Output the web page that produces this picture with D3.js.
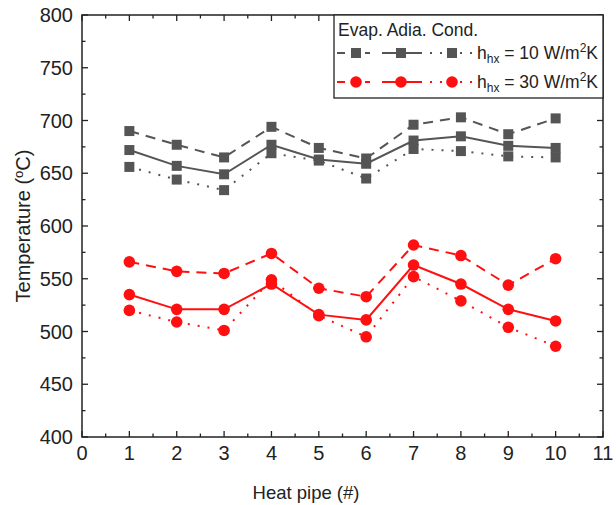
<!DOCTYPE html>
<html><head><meta charset="utf-8">
<script src="https://cdn.jsdelivr.net/npm/d3@7"></script>
<style>body{margin:0;background:#fff}svg{display:block}text{font-family:"Liberation Sans",Arial,sans-serif;fill:#222}</style>
</head><body><svg id="c" width="616" height="505"></svg>
<script>
const pipes = [1,2,3,4,5,6,7,8,9,10];
const xTicks = [0,1,2,3,4,5,6,7,8,9,10,11];
const yTicks = [400,450,500,550,600,650,700,750,800];
const evap10 = [690,677,665,694,674,664,696,703,687,702];
const adia10 = [672,657,649,677,663,659,681,685,676,674];
const cond10 = [656,644,634,669,662,645,673,671,666,665];
const evap30 = [566,557,555,574,541,533,582,572,544,569];
const adia30 = [535,521,521,545,516,511,563,545,521,510];
const cond30 = [520,509,501,549,515,495,552,529,504,486];
const legendHeader = "Evap. Adia. Cond.";
const legendRows = ["10","30"];

const svg = d3.select("#c");
const L=82,R=603,T=15,B=437;
const x = d3.scaleLinear().domain([0,11]).range([L,R]);
const y = d3.scaleLinear().domain([400,800]).range([B,T]);
const gray="#555555", red="#ff1010";

svg.append("rect").attr("x",L).attr("y",T).attr("width",R-L).attr("height",B-T)
  .attr("fill","none").attr("stroke","#222").attr("stroke-width",1.5);

const xMinor = d3.range(0.5,11,1);
const yMinor = d3.range(425,800,50);
const tk = svg.append("g").attr("stroke","#222").attr("stroke-width",1.3);
xTicks.forEach(v=>{ tk.append("line").attr("x1",x(v)).attr("x2",x(v)).attr("y1",B).attr("y2",B-6);
  tk.append("line").attr("x1",x(v)).attr("x2",x(v)).attr("y1",T).attr("y2",T+6);});
xMinor.forEach(v=>{ tk.append("line").attr("x1",x(v)).attr("x2",x(v)).attr("y1",B).attr("y2",B-3.5);
  tk.append("line").attr("x1",x(v)).attr("x2",x(v)).attr("y1",T).attr("y2",T+3.5);});
yTicks.forEach(v=>{ tk.append("line").attr("y1",y(v)).attr("y2",y(v)).attr("x1",L).attr("x2",L+6);
  tk.append("line").attr("y1",y(v)).attr("y2",y(v)).attr("x1",R).attr("x2",R-6);});
yMinor.forEach(v=>{ tk.append("line").attr("y1",y(v)).attr("y2",y(v)).attr("x1",L).attr("x2",L+3.5);
  tk.append("line").attr("y1",y(v)).attr("y2",y(v)).attr("x1",R).attr("x2",R-3.5);});

svg.append("g").selectAll("text").data(xTicks).join("text")
  .attr("x",d=>x(d)).attr("y",B+23).attr("text-anchor","middle").attr("font-size",20).text(d=>d);
svg.append("g").selectAll("text").data(yTicks).join("text")
  .attr("x",L-9).attr("y",d=>y(d)+7).attr("text-anchor","end").attr("font-size",20).text(d=>d);

svg.append("text").attr("x",306).attr("y",499).attr("text-anchor","middle").attr("font-size",18.5).text("Heat pipe (#)");
const yt = svg.append("text").attr("transform",`translate(30,${226}) rotate(-90)`).attr("text-anchor","middle").attr("font-size",20);
yt.append("tspan").text("Temperature (");
yt.append("tspan").attr("font-size",13).attr("dy",-7).text("o");
yt.append("tspan").attr("dy",7).text("C)");

const series = [
  {v:evap10,c:gray,dash:"10,7",m:"sq"},{v:adia10,c:gray,dash:null,m:"sq"},{v:cond10,c:gray,dash:"2,8",m:"sq"},
  {v:evap30,c:red,dash:"10,7",m:"ci"},{v:adia30,c:red,dash:null,m:"ci"},{v:cond30,c:red,dash:"2,8",m:"ci"}];
const line = d3.line().x((d,i)=>x(pipes[i])).y(d=>y(d));
function marker(g,m,c,cx,cy){
  if(m==="sq") g.append("rect").attr("x",cx-5).attr("y",cy-5).attr("width",10).attr("height",10).attr("fill",c);
  else g.append("circle").attr("cx",cx).attr("cy",cy).attr("r",5.8).attr("fill",c);
}
series.forEach(s=>{
  svg.append("path").datum(s.v).attr("d",line).attr("fill","none").attr("stroke",s.c)
    .attr("stroke-width",2).attr("stroke-dasharray",s.dash);
  const g=svg.append("g");
  s.v.forEach((d,i)=>marker(g,s.m,s.c,x(pipes[i]),y(d)));
});

const lg = svg.append("g");
lg.append("rect").attr("x",334).attr("y",T).attr("width",R-334).attr("height",83).attr("fill","#fff").attr("stroke","#222").attr("stroke-width",1.3);
lg.append("text").attr("x",338).attr("y",36).attr("font-size",17.5).text(legendHeader);
const segs=[{a:337,b:370,c:356,dash:"8,6"},{a:382,b:422,c:401,dash:null},{a:430,b:474,c:452,dash:"2,8"}];
legendRows.forEach((r,k)=>{
  const yy = k===0?53:82, col=k===0?gray:red, m=k===0?"sq":"ci";
  segs.forEach(sg=>{
    lg.append("line").attr("x1",sg.a).attr("x2",sg.b).attr("y1",yy).attr("y2",yy).attr("stroke",col).attr("stroke-width",2).attr("stroke-dasharray",sg.dash);
    marker(lg,m,col,sg.c,yy);
  });
  const t=lg.append("text").attr("x",477).attr("y",yy+6).attr("font-size",17.5);
  t.append("tspan").text("h");
  t.append("tspan").attr("font-size",12).attr("dy",4).text("hx");
  t.append("tspan").attr("dy",-4).text(" = "+r+" W/m");
  t.append("tspan").attr("font-size",12).attr("dy",-7).text("2");
  t.append("tspan").attr("dy",7).text("K");
});
</script></body></html>
